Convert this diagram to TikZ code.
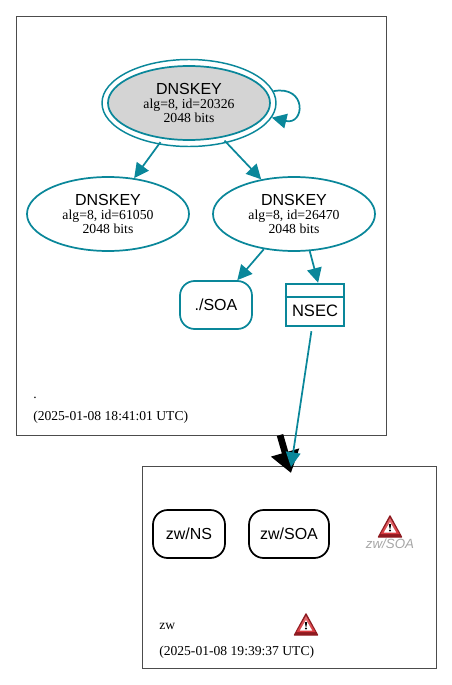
\documentclass[tikz,border=0pt]{standalone}
\usepackage{fontspec}
\setmainfont{Liberation Serif}
\setsansfont{Liberation Sans}
\usepackage{tikz}
\usetikzlibrary{arrows.meta,shapes.geometric}

\definecolor{keyteal}{HTML}{0A879A}
\definecolor{warnred}{HTML}{D5343A}
\definecolor{warndark}{HTML}{8E1A20}

\tikzset{
    zonebox/.style={draw=black!70,line width=0.5pt,rectangle,inner sep=0pt,anchor=north west},
    keynode/.style={draw=keyteal,line width=1.3pt,ellipse,inner sep=0pt,minimum width=121.5pt,minimum height=55.5pt,align=center,font=\sffamily\fontsize{12}{13}\selectfont},
    rrnode/.style={rectangle,rounded corners=11pt,line width=1.3pt,inner sep=0pt,minimum height=36pt,font=\sffamily\fontsize{12}{13}\selectfont},
    edge/.style={draw=keyteal,line width=1.3pt,-{Triangle[length=11pt,width=11pt]}},
    small/.style={font=\fontsize{10.2}{12}\selectfont,inner sep=0pt},
}
\newcommand{\keytext}[1]{DNSKEY\\[-2.6pt]{\rmfamily\fontsize{10.3}{11}\selectfont alg=8, id=#1}\\[-2.6pt]{\rmfamily\fontsize{10.3}{11}\selectfont 2048 bits}}
\newcommand{\warnicon}[1]{%
    \begin{scope}[shift={(#1)}]
    \fill[warndark,line join=round,line width=1pt,draw=warndark] (0,-11) -- (11.5,10) -- (-11.5,10) -- cycle;
    \shade[top color=warnred!70,bottom color=warnred] (0,-9) -- (9.5,7) -- (-9.5,7) -- cycle;
    \fill[white] (0,-5) -- (6.2,5.5) -- (-6.2,5.5) -- cycle;
    \fill[black] (-1.1,-3) -- (1.1,-3) -- (0.5,1.5) -- (-0.5,1.5) -- cycle;
    \fill[black] (0,3.4) circle (1.1);
    \end{scope}}

\begin{document}
\begin{tikzpicture}[x=0.75pt,y=-0.75pt]
    \useasboundingbox (0,0) rectangle (452,685);

    % ================= ROOT ZONE =================
    \node[zonebox,minimum width=277.5pt,minimum height=314.25pt] (rootzone) at (16,16) {};

    \node[draw=keyteal,line width=1.1pt,ellipse,minimum width=130.5pt,minimum height=65.25pt,inner sep=0pt] (kskouter) at (189,103) {};
    \node[keynode,fill=black!17] (ksk) at (189,103) {\keytext{20326}};
    \node[keynode] (dnskeya) at (108,214) {\keytext{61050}};
    \node[keynode] (dnskeyb) at (294,214) {\keytext{26470}};

    \node[rrnode,draw=keyteal,minimum width=54pt] (soa) at (216,305) {./SOA};

    \node[draw=keyteal,line width=1.9pt,rectangle,inner sep=0pt,minimum width=43.5pt,minimum height=31.5pt] (nsec) at (315,305) {};
    \node[inner sep=0pt,font=\sffamily\fontsize{12.4}{13}\selectfont] (nsectext) at (315,310.5) {NSEC};
    \draw[keyteal,line width=1.9pt] (nsec.west |- 0,297) -- (nsec.east |- 0,297);

    % Edges
    \draw[edge] (kskouter.8) .. controls +(34,-6) and +(33,8) .. (kskouter.-10);
    \draw[edge,shorten <=3pt] (ksk) -- (dnskeya);
    \draw[edge,shorten <=3pt] (ksk) -- (dnskeyb);
    \draw[edge] (dnskeyb) -- (soa);
    \draw[edge] (dnskeyb.-67) -- (nsec.82);

    % Labels
    \node[small,anchor=base west] (rootname) at (33,398) {.};
    \node[small,anchor=base west] (roottime) at (33,420) {(2025-01-08 18:41:01 UTC)};

    % ================= ZW ZONE =================
    \node[zonebox,minimum width=220.5pt,minimum height=151.5pt] (zwzone) at (142,466) {};

    \node[rrnode,draw=black,minimum width=54pt] (zwns) at (189,534) {zw/NS};
    \node[rrnode,draw=black,minimum width=60pt] (zwsoa) at (289,534) {zw/SOA};

    \warnicon{390,527}
    \node[inner sep=0pt,text=black!35,font=\sffamily\itshape\fontsize{10}{12}\selectfont] (zwsoawarn) at (390,544) {zw/SOA};

    \node[small,anchor=base west] (zwname) at (159,629) {zw};
    \warnicon{306,625}
    \node[small,anchor=base west] (zwtime) at (159,655) {(2025-01-08 19:39:37 UTC)};

    % ================= DELEGATION =================
    \coordinate (delegstart) at (280,435);
    \coordinate (delegend) at (291,473);
    \coordinate (nsecend) at (291,467);
    \draw[line width=5pt,-{Triangle[length=16pt,width=21pt]}] (delegstart) -- (delegend);
    \draw[edge,shorten <=3pt] (nsec.south -| 312,0) -- (nsecend);
\end{tikzpicture}
\end{document}
